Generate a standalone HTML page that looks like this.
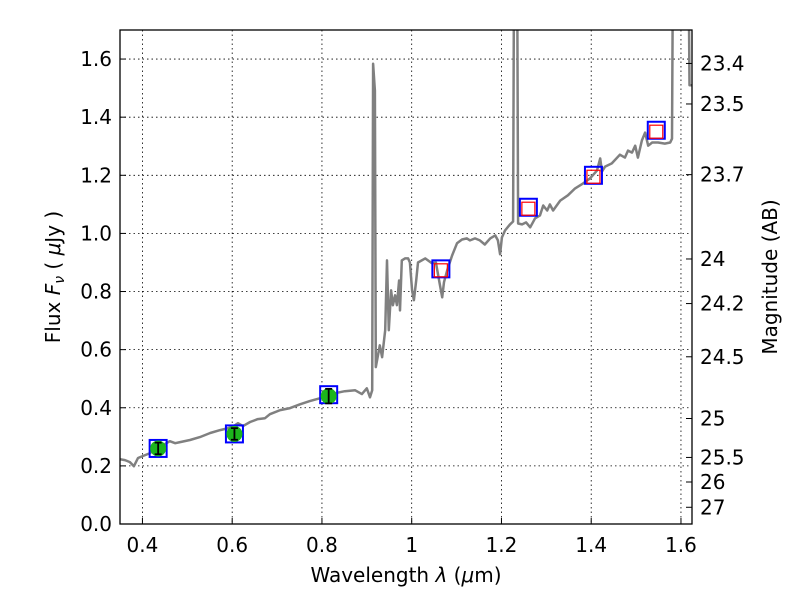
<!DOCTYPE html>
<html><head><meta charset="utf-8"><style>
body{margin:0;background:#fff;}
svg text{font-family:"DejaVu Sans","Liberation Sans",sans-serif;fill:#000;}
</style></head><body>
<svg id="chart" width="800" height="600" viewBox="0 0 800 600">
<rect x="0" y="0" width="800" height="600" fill="#fff"/>
<g id="grid"></g>
<g id="spec"></g>
<g id="pts"></g>
<rect x="120" y="30" width="572" height="494" fill="none" stroke="#000" stroke-width="1.3"/>
<g id="axes"></g>
<text x="406" y="582" font-size="20" text-anchor="middle">Wavelength  <tspan font-style="italic">λ</tspan> (<tspan font-style="italic">μ</tspan>m)</text>
<text transform="translate(60,277) rotate(-90)" font-size="20" text-anchor="middle">Flux  <tspan font-style="italic">F</tspan><tspan font-style="italic" font-size="14" dy="4">ν</tspan><tspan dy="-4">  ( </tspan><tspan font-style="italic">μ</tspan>Jy )</text>
<text transform="translate(777,277) rotate(-90)" font-size="20" text-anchor="middle">Magnitude (AB)</text>
</svg>
<script>
const xTicks=[0.4,0.6,0.8,1.0,1.2,1.4,1.6];
const xTickLabels=["0.4","0.6","0.8","1","1.2","1.4","1.6"];
const yTicks=[0,0.2,0.4,0.6,0.8,1.0,1.2,1.4,1.6];
const yTickLabels=["0.0","0.2","0.4","0.6","0.8","1.0","1.2","1.4","1.6"];
const magTicks=[23.4,23.5,23.7,24,24.2,24.5,25,25.5,26,27];
const magTickLabels=["23.4","23.5","23.7","24","24.2","24.5","25","25.5","26","27"];
const specWave=[0.350,0.361,0.372,0.381,0.390,0.406,0.417,0.430,0.439,0.450,0.461,0.473,0.484,0.506,0.528,0.551,0.573,0.600,0.613,0.624,0.640,0.657,0.673,0.684,0.707,0.729,0.751,0.773,0.796,0.813,0.829,0.851,0.874,0.889,0.900,0.907,0.912,0.914,0.918,0.920,0.925,0.929,0.934,0.941,0.945,0.949,0.954,0.958,0.963,0.967,0.972,0.974,0.978,0.985,0.992,0.996,1.001,1.005,1.010,1.014,1.030,1.045,1.054,1.063,1.068,1.072,1.079,1.090,1.101,1.112,1.123,1.130,1.141,1.152,1.163,1.175,1.186,1.192,1.197,1.201,1.208,1.219,1.226,1.228,1.235,1.237,1.246,1.255,1.264,1.275,1.286,1.293,1.302,1.308,1.315,1.331,1.348,1.364,1.382,1.397,1.413,1.420,1.424,1.431,1.446,1.464,1.475,1.482,1.491,1.498,1.504,1.513,1.520,1.527,1.536,1.549,1.564,1.576,1.580,1.582,1.600,1.617,1.619,1.625];
const specFlux=[0.223,0.220,0.213,0.199,0.227,0.237,0.244,0.261,0.271,0.275,0.285,0.278,0.282,0.289,0.299,0.313,0.323,0.333,0.347,0.337,0.351,0.361,0.364,0.378,0.392,0.399,0.412,0.423,0.433,0.443,0.450,0.457,0.460,0.447,0.467,0.436,0.460,1.584,1.491,0.540,0.581,0.615,0.574,0.667,0.907,0.667,0.804,0.753,0.787,0.753,0.838,0.735,0.907,0.914,0.914,0.900,0.804,0.770,0.838,0.900,0.914,0.897,0.900,0.821,0.780,0.832,0.873,0.924,0.966,0.979,0.983,0.976,0.983,0.976,0.962,0.983,0.993,0.976,0.928,0.986,1.010,1.031,1.041,1.9,1.9,1.034,1.031,1.038,1.021,1.052,1.062,1.096,1.079,1.100,1.079,1.113,1.131,1.155,1.172,1.189,1.216,1.258,1.213,1.230,1.241,1.271,1.261,1.285,1.278,1.302,1.261,1.320,1.347,1.302,1.313,1.313,1.309,1.313,1.326,1.9,1.9,1.9,1.51,1.51];
const photWave=[0.435,0.605,0.815];
const photFlux=[0.26,0.31,0.44];
const photErr=[0.02,0.02,0.025];
const modelWave=[0.435,0.605,0.815,1.065,1.26,1.405,1.545];
const modelFlux=[0.26,0.31,0.445,0.878,1.09,1.2,1.355];
const predWave=[1.065,1.26,1.405,1.545];
const predFlux=[0.873,1.085,1.195,1.35];
const X0=0.35,X1=1.6246,Y0=0,Y1=1.7,PL=120,PR=692,PT=30,PB=524;
const sx=v=>PL+(v-X0)/(X1-X0)*(PR-PL);
const sy=v=>PB-(v-Y0)/(Y1-Y0)*(PB-PT);
const magToFlux=m=>Math.pow(10,(23.9-m)/2.5);
const NS="http://www.w3.org/2000/svg";
function mk(t,a,p){const e=document.createElementNS(NS,t);for(const k in a)e.setAttribute(k,a[k]);p.appendChild(e);return e;}
const grid=document.getElementById('grid'),axes=document.getElementById('axes');
xTicks.forEach((v,i)=>{const x=sx(v);
 const g=mk('line',{x1:x,x2:x,y1:PT,y2:PB,stroke:'#000','stroke-width':0.8,'stroke-dasharray':'1.5,3'},grid);
 
 
 const t=mk('line',{x1:x,x2:x,y1:PB,y2:PB-6,stroke:'#000'},axes);
 
 
 const l=mk('text',{x:x,y:PB+28,'font-size':20,'text-anchor':'middle'},axes);l.textContent=xTickLabels[i];
 
 });
yTicks.forEach((v,i)=>{const y=sy(v);
 const g=mk('line',{x1:PL,x2:PR,y1:y,y2:y,stroke:'#000','stroke-width':0.8,'stroke-dasharray':'1.5,3'},grid);
 
 
 const t=mk('line',{x1:PL,x2:PL+6,y1:y,y2:y,stroke:'#000'},axes);
 
 
 const l=mk('text',{x:PL-8,y:y+7,'font-size':20,'text-anchor':'end'},axes);l.textContent=yTickLabels[i];
 
 });
magTicks.forEach((m,i)=>{const y=sy(magToFlux(m));
 const t=mk('line',{x1:PR,x2:PR-6,y1:y,y2:y,stroke:'#000'},axes);
 
 
 const l=mk('text',{x:PR+8,y:y+7,'font-size':20},axes);l.textContent=magTickLabels[i];
 
 });
const spec=document.getElementById('spec');
mk('clipPath',{id:'clip'},spec).appendChild(document.createElementNS(NS,'rect'));
const cr=spec.querySelector('clipPath rect');cr.setAttribute('x',PL);cr.setAttribute('y',PT);cr.setAttribute('width',PR-PL);cr.setAttribute('height',PB-PT);
const pth=mk('path',{d:specWave.map((w,i)=>(i?'L':'M')+sx(w).toFixed(1)+','+sy(specFlux[i]).toFixed(1)).join(''),fill:'none',stroke:'#808080','stroke-width':2.5,'stroke-linejoin':'round','clip-path':'url(#clip)'},spec);


const pts=document.getElementById('pts');
modelWave.forEach((w,i)=>{const x=sx(w),y=sy(modelFlux[i]);
 const r=mk('rect',{x:x-8.5,y:y-8.5,width:17,height:17,fill:'none',stroke:'#0000ff','stroke-width':2},pts);
 
 });
predWave.forEach((w,i)=>{const x=sx(w),y=sy(predFlux[i]);
 const r=mk('rect',{x:x-6.5,y:y-6.5,width:13,height:13,fill:'none',stroke:'#ff0000','stroke-width':1.2},pts);
 
 });
photWave.forEach((w,i)=>{const x=sx(w),y=sy(photFlux[i]);
 const c=mk('circle',{cx:x,cy:y,r:8,fill:'#1cb51c'},pts);
 
 
 const y1=sy(photFlux[i]+photErr[i]),y2=sy(photFlux[i]-photErr[i]);
 const e=mk('path',{d:`M${x},${y1}L${x},${y2}M${x-3.5},${y1}L${x+3.5},${y1}M${x-3.5},${y2}L${x+3.5},${y2}`,stroke:'#000','stroke-width':1.8,fill:'none'},pts);
 
 });
</script>
</body></html>
